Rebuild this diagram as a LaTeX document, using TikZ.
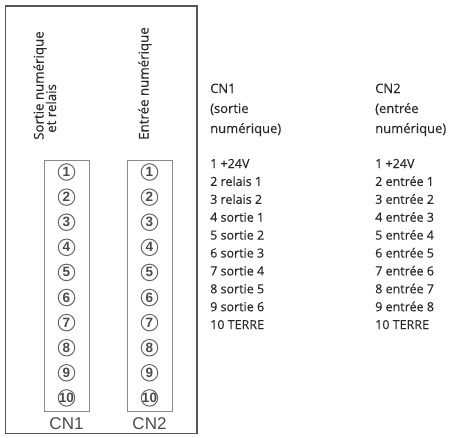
\documentclass[tikz,border=0pt]{standalone}
\usepackage{fontspec}
\setmainfont{Open Sans}[FakeBold=0.35]
\newfontfamily\arialf{Liberation Sans}
\definecolor{txt}{HTML}{2A2A2A}
\definecolor{frameC}{HTML}{555555}
\definecolor{boxC}{HTML}{8A8A8A}
\definecolor{pinC}{HTML}{666666}
\tikzset{
  frame/.style={draw=frameC, line width=1.2pt},
  connbox/.style={draw=boxC, line width=1pt},
  pinc/.style={circle, draw=pinC, line width=1pt, minimum size=16.5pt, inner sep=0pt,
    font=\arialf\bfseries\fontsize{13.5}{14}\selectfont, text=txt!85},
  vlab/.style={rotate=90, anchor=base west, font=\fontsize{13.3}{14}\selectfont, text=txt, inner sep=0pt},
  head/.style={anchor=base west, font=\fontsize{13}{15}\selectfont, text=txt, inner sep=0pt},
  item/.style={anchor=base west, font=\fontsize{12.5}{14}\selectfont, text=txt, inner sep=0pt},
  cnlab/.style={anchor=base, font=\arialf\fontsize{17}{18}\selectfont, text=txt!85, inner sep=0pt}
}
\begin{document}
\begin{tikzpicture}[x=1pt,y=-1pt]
\useasboundingbox (0,0) rectangle (462,437);
% outer frame
\draw[frame] (5.5,6) rectangle (197,433.5);
% connector boxes
\draw[connbox] (44,160.5) rectangle (89,411);
\draw[connbox] (127,160.5) rectangle (172,411);
% rotated labels
\node[vlab] (v1) at (43.5,140) {Sortie numérique};
\node[vlab] (v2) at (56,133) {et relais};
\node[vlab] (v3) at (148.5,140) {Entrée numérique};
% pins
\foreach \i in {1,...,10}{
  \pgfmathsetmacro{\yy}{172+(\i-1)*25.1}
  \node[pinc] (a\i) at (66.5,\yy) {\makebox[0pt]{\i}};
  \node[pinc] (b\i) at (149.5,\yy) {\makebox[0pt]{\i}};
}
\node[cnlab] (cn1) at (66.5,429.5) {CN1};
\node[cnlab] (cn2) at (149.5,429.5) {CN2};
% right-hand text
\node[head] (h1a) at (210,93) {CN1};
\node[head] (h1b) at (210,113) {(sortie};
\node[head] (h1c) at (210,133) {numérique)};
\node[head] (h2a) at (375,93) {CN2};
\node[head] (h2b) at (375,113) {(entrée};
\node[head] (h2c) at (375,133) {numérique)};
\foreach \t [count=\i] in {1 +24V, 2 relais 1, 3 relais 2, 4 sortie 1, 5 sortie 2, 6 sortie 3, 7 sortie 4, 8 sortie 5, 9 sortie 6, 10 TERRE}{
  \pgfmathsetmacro{\yy}{168+(\i-1)*17.9}
  \node[item] (l\i) at (210,\yy) {\t};
}
\foreach \t [count=\i] in {1 +24V, 2 entrée 1, 3 entrée 2, 4 entrée 3, 5 entrée 4, 6 entrée 5, 7 entrée 6, 8 entrée 7, 9 entrée 8, 10 TERRE}{
  \pgfmathsetmacro{\yy}{168+(\i-1)*17.9}
  \node[item] (r\i) at (375,\yy) {\t};
}
\end{tikzpicture}
\end{document}
